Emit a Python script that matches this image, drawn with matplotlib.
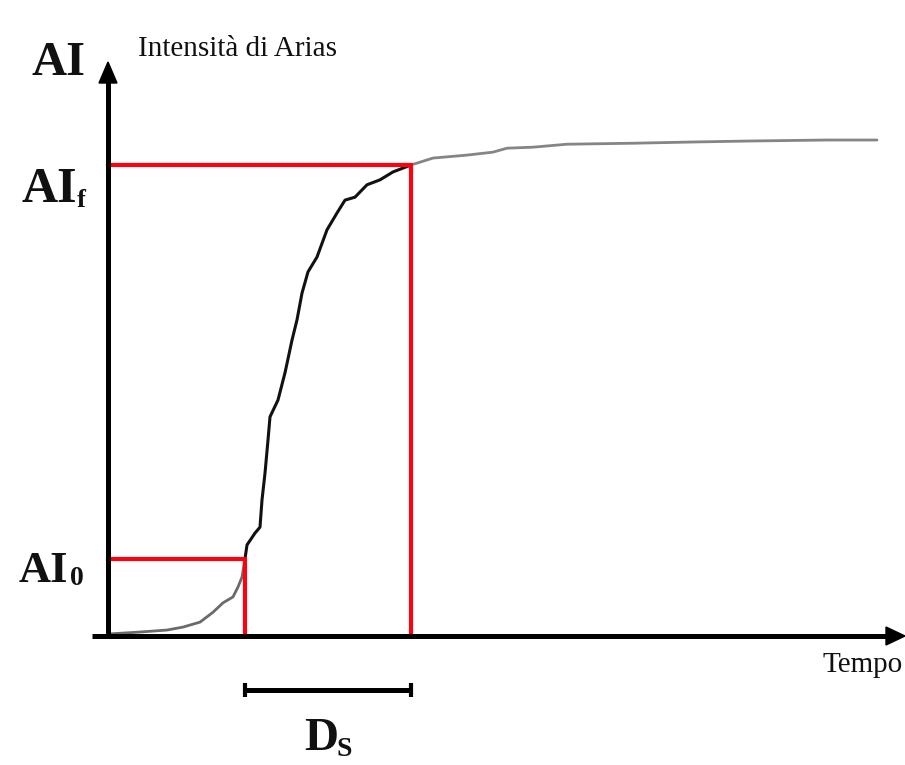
import matplotlib
matplotlib.use("Agg")
import matplotlib.pyplot as plt
from matplotlib.patches import Polygon

# Cumulative Arias intensity (schematic), time in s, AI in % of final value
time_s = [0.0, 1.6, 2.95, 3.75, 4.6, 5.25, 5.75, 6.25, 6.5, 6.7, 6.85,
          6.95, 7.35, 7.6, 7.7, 7.85, 8.0, 8.1, 8.5, 8.85, 9.2, 9.45, 9.7,
          10.0, 10.45, 10.95, 11.45, 11.85, 12.35, 12.95, 13.6, 14.25, 15.15,
          16.25, 17.95, 19.25, 19.95, 21.25, 22.95, 26.25, 29.25, 32.1,
          35.95, 38.45]
arias = [0.2, 0.6, 1.0, 1.6, 2.6, 4.6, 6.5, 7.7, 9.7, 11.7, 15.4,
         18.2, 20.6, 21.8, 27.3, 32.7, 39.4, 44.1, 47.5, 53.0, 59.6, 63.7, 69.1,
         73.4, 76.4, 81.9, 85.3, 87.9, 88.5, 91.0, 92.0, 93.6, 95.0,
         96.4, 97.0, 97.6, 98.4, 98.6, 99.2, 99.4, 99.65, 99.85,
         100.05, 100.05]

# Start and end of significant duration
t0, ai0 = 6.85, 15.4
tf, aif = 15.15, 95.0

# Figure scale: 20 px per second, 470 px for 95 % of AI; origin at (108, 635) px
W, H, DPI = 905, 765, 100
OX, OY = 108, 635
SX, SY = 20.0, 470.0 / 95.0


def px(x, y):
    """Pixel position -> data coordinates."""
    return (x - OX) / SX, (OY - y) / SY


fig = plt.figure(figsize=(W / DPI, H / DPI), dpi=DPI, facecolor="white")
ax = fig.add_axes([0, 0, 1, 1])
x0, y0 = px(0, H)
x1, y1 = px(W, 0)
ax.set_xlim(x0, x1)
ax.set_ylim(y0, y1)
ax.axis("off")

# Axes with arrowheads
ax.plot([0, 0], [px(0, 638)[1], px(0, 80)[1]], color="black", lw=3.6,
        solid_capstyle="butt", zorder=5)
ax.add_patch(Polygon([px(108, 62), px(99, 83), px(117, 83)], closed=True,
                     color="black", zorder=5))
ax.plot([px(92, 0)[0], px(889, 0)[0]], [px(0, 636)[1]] * 2, color="black",
        lw=3.6, solid_capstyle="butt", zorder=5)
ax.add_patch(Polygon([px(905, 636), px(886, 627), px(886, 645)], closed=True,
                     color="black", zorder=5))

# Curve: grey outside the significant duration, black inside
i0 = arias.index(ai0)
i1 = arias.index(aif)
curve = dict(solid_joinstyle="round", solid_capstyle="round", zorder=3)
ax.plot(time_s[:i0 + 1], arias[:i0 + 1], color="#6a6a6a", lw=2.0, **curve)
ax.plot(time_s[i0:i1 + 1], arias[i0:i1 + 1], color="#111111", lw=2.2, **curve)
ax.plot(time_s[i1:], arias[i1:], color="#858585", lw=2.0, **curve)

# Red guide lines
red = "#ff0010"
ax.plot([0, t0, t0], [ai0, ai0, 0], color=red, lw=3.0, zorder=4,
        solid_joinstyle="miter")
ax.plot([0, tf, tf], [aif, aif, 0], color=red, lw=3.0, zorder=4,
        solid_joinstyle="miter")

# Significant duration bracket
yb = px(0, 690)[1]
ax.plot([t0, tf], [yb, yb], color="black", lw=3.6, solid_capstyle="butt")
for t in (t0, tf):
    ax.plot([t, t], [px(0, 683)[1], px(0, 697)[1]], color="black", lw=3.0,
            solid_capstyle="butt")

serif = "Liberation Serif"
bold = dict(family=serif, weight="bold", color="#111111")

ax.text(*px(31, 75), "AI", fontsize=35, ha="left", va="baseline", **bold)
ax.text(*px(21, 202), "AI", fontsize=36, ha="left", va="baseline", **bold)
ax.text(*px(77, 207), "f", fontsize=19, ha="left", va="baseline", **bold)
ax.text(*px(19, 582), "AI", fontsize=32, ha="left", va="baseline", **bold)
ax.text(*px(70, 585), "0", fontsize=20, ha="left", va="baseline", **bold)
ax.text(*px(304, 750), "D", fontsize=34, ha="left", va="baseline", **bold)
ax.text(*px(337, 756), "S", fontsize=20, ha="left", va="baseline", **bold)

ax.text(*px(138, 56), "Intensità di Arias", fontsize=21, family=serif,
        ha="left", va="baseline", color="#111111")
ax.text(*px(903, 672), "Tempo", fontsize=21, family=serif,
        ha="right", va="baseline", color="#111111")

fig.savefig("out.png", dpi=DPI, facecolor="white")
